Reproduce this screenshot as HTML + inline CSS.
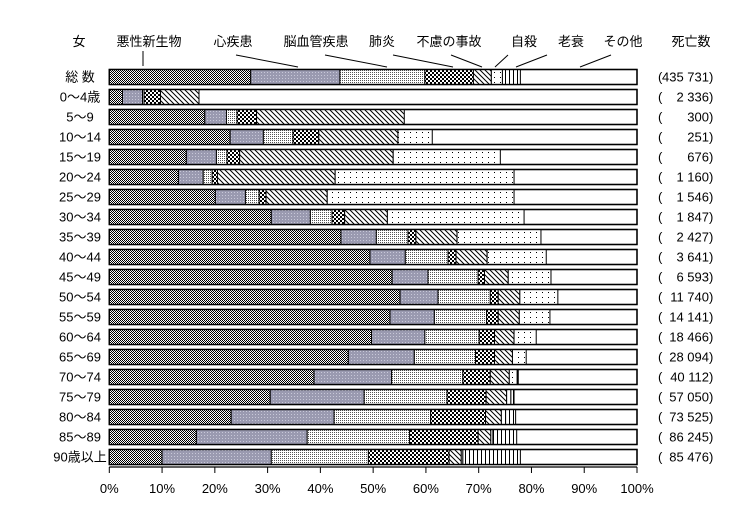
<!DOCTYPE html>
<html><head><meta charset="utf-8">
<style>
html,body{margin:0;padding:0;background:#fff;}
svg{display:block;font-family:"Liberation Sans","Noto Sans CJK JP",sans-serif;}
text{font-size:13px;fill:#000;}
</style></head>
<body>
<svg id="chart" width="745" height="507" viewBox="0 0 745 507" xmlns="http://www.w3.org/2000/svg">
<defs>
<pattern id="p0" width="2" height="2" patternUnits="userSpaceOnUse"><rect width="2" height="2" fill="#fff"/><rect width="1" height="1" fill="#000"/><rect x="1" y="1" width="1" height="1" fill="#000"/></pattern>
<pattern id="p1" width="3" height="3" patternUnits="userSpaceOnUse"><rect width="3" height="3" fill="#9a9ab0"/><rect width="1" height="1" fill="#c8c8d8"/></pattern>
<pattern id="p2" width="2" height="2" patternUnits="userSpaceOnUse"><rect width="2" height="2" fill="#fff"/><rect width="1" height="1" fill="#555"/></pattern>
<pattern id="p3" width="4" height="4" patternUnits="userSpaceOnUse"><rect width="4" height="4" fill="#fff"/><rect width="2" height="2" fill="#000"/><rect x="2" y="2" width="2" height="2" fill="#000"/></pattern>
<pattern id="p4" width="5" height="5" patternUnits="userSpaceOnUse"><rect width="5" height="5" fill="#fff"/><path d="M-1,-1 L6,6 M-1,4 L1,6 M4,-1 L6,1" stroke="#000" stroke-width="1"/></pattern>
<pattern id="p5" width="6" height="5" patternUnits="userSpaceOnUse"><rect width="6" height="5" fill="#fff"/><rect x="2" y="2" width="1" height="1" fill="#000"/></pattern>
<pattern id="p6" width="4" height="4" patternUnits="userSpaceOnUse"><rect width="4" height="4" fill="#fff"/><rect x="1" width="1" height="4" fill="#000"/></pattern>
</defs>
<g id="bars"></g>
<g id="labels"></g>
<g id="axis"></g>
</svg>
<script>
const categories = ["総 数","0～4歳","5～9","10～14","15～19","20～24","25～29","30～34","35～39","40～44","45～49","50～54","55～59","60～64","65～69","70～74","75～79","80～84","85～89","90歳以上"];
const deaths = ["435 731","2 336","300","251","676","1 160","1 546","1 847","2 427","3 641","6 593","11 740","14 141","18 466","28 094","40 112","57 050","73 525","86 245","85 476"];
const causes = ["悪性新生物","心疾患","脳血管疾患","肺炎","不慮の事故","自殺","老衰","その他"];
const cancer   = [26.8,2.5,18.1,22.9,14.6,13.1,20.1,30.7,43.9,49.4,53.6,55.1,53.2,49.7,45.3,38.8,30.5,23.1,16.5,10.0];
const heart    = [16.9,3.8,4.1,6.3,5.7,4.7,5.7,7.4,6.7,6.7,6.8,7.2,8.4,10.1,12.5,14.7,17.8,19.5,21.0,20.7];
const stroke   = [16.1,0.3,2.0,5.6,2.0,1.7,2.6,4.1,6.0,8.1,9.5,9.9,9.9,10.3,11.6,13.5,15.7,18.3,19.4,18.4];
const pneumonia= [9.2,3.1,3.7,4.9,2.4,1.0,1.3,2.4,1.5,1.5,1.2,1.5,2.2,2.9,3.6,5.2,7.4,10.4,13.0,15.3];
const accident = [3.4,7.3,28.0,15.0,29.1,22.3,11.6,8.1,7.8,5.9,4.5,4.1,4.0,3.7,3.4,3.6,3.9,3.0,2.4,2.3];
const suicide  = [2.1,0,0,6.5,20.3,33.9,35.4,25.9,15.9,11.2,8.1,7.2,5.8,4.2,2.6,1.5,0.8,0.8,0.4,0.3];
const senility = [3.4,0,0,0,0,0,0,0,0,0,0,0,0,0,0,0.2,0.6,1.9,4.5,10.9];
const xTicks = ["0%","10%","20%","30%","40%","50%","60%","70%","80%","90%","100%"];

const NS="http://www.w3.org/2000/svg";
const X0=109.3, X1=637, ROW0=69.5, PITCH=20, BH=15;
const xs = v => X0 + (X1-X0)*v/100;
const ys = i => ROW0 + PITCH*i;
function mk(tag, attrs, parent){const e=document.createElementNS(NS,tag);for(const k in attrs)e.setAttribute(k,attrs[k]);parent.appendChild(e);return e;}
const bars=document.getElementById('bars'), labels=document.getElementById('labels'), axis=document.getElementById('axis');
const series=[cancer,heart,stroke,pneumonia,accident,suicide,senility];
const slugs=["cancer","heart","stroke","pneumonia","accident","suicide","senility","other"];

categories.forEach((c,i)=>{
  const y=ys(i);
  const bg=mk('rect',{x:X0,y:y,width:X1-X0,height:BH,fill:'#fff',stroke:'#000','stroke-width':1.3},bars);
  
  
  let cum=0;
  series.forEach((s,k)=>{
    const v=s[i]; if(v<=0)return;
    const r=mk('rect',{x:xs(cum),y:y,width:xs(cum+v)-xs(cum),height:BH,fill:'url(#p'+k+')',stroke:'#000','stroke-width':1},bars);
    
    
    cum+=v;
  });
  const fr=mk('rect',{x:X0,y:y,width:X1-X0,height:BH,fill:'none',stroke:'#000','stroke-width':1.4},bars);
  
  
  const t=mk('text',{x:80,y:y+12,'text-anchor':'middle'},labels);
  t.textContent=c;
  
  
  const p1=mk('text',{x:658,y:y+12,'font-size':12},labels);
  p1.textContent='(';
  
  
  const d=mk('text',{x:709,y:y+12,'text-anchor':'end','font-size':12},labels);
  d.textContent=deaths[i];
  
  
  const p2=mk('text',{x:709,y:y+12,'font-size':12},labels);
  p2.textContent=')';
  
  
});

const AY=467;
const al=mk('line',{x1:X0,y1:AY,x2:X1,y2:AY,stroke:'#000','stroke-width':1.3},axis);


xTicks.forEach((l,k)=>{
  const x=xs(k*10);
  const tk=mk('line',{x1:x,y1:AY,x2:x,y2:AY+6,stroke:'#000','stroke-width':1},axis);
  
  
  const t=mk('text',{x:x,y:493,'text-anchor':'middle','font-size':12},axis);
  t.textContent=l;
  
  
});

const headers=[["女",79],["悪性新生物",149],["心疾患",233],["脳血管疾患",316],["肺炎",382],["不慮の事故",449],["自殺",524],["老衰",571],["その他",623],["死亡数",691]];
headers.forEach(h=>{
  const t=mk('text',{x:h[1],y:46,'text-anchor':'middle'},labels);
  t.textContent=h[0];
  
  
});
const leaders=[[143,51,143,66],[236,55,298,67],[325,55,387,67],[393,55,453,67],[451,55,482,67],[508,55,495,67],[547,55,516,67],[611,55,580,67]];
leaders.forEach(l=>{
  const e=mk('line',{x1:l[0],y1:l[1],x2:l[2],y2:l[3],stroke:'#000','stroke-width':1},labels);
  
  
});
</script>
</body></html>
